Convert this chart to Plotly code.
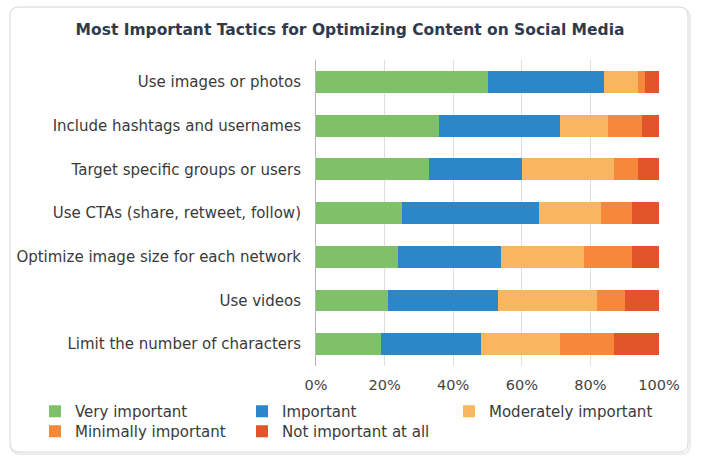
import plotly.graph_objects as go

categories = [
    "Use images or photos",
    "Include hashtags and usernames",
    "Target specific groups or users",
    "Use CTAs (share, retweet, follow)",
    "Optimize image size for each network",
    "Use videos",
    "Limit the number of characters",
]
very_important = [50, 36, 33, 25, 24, 21, 19]
important = [34, 35, 27, 40, 30, 32, 29]
moderately_important = [10, 14, 27, 18, 24, 29, 23]
minimally_important = [2, 10, 7, 9, 14, 8, 16]
not_important = [4, 5, 6, 8, 8, 10, 13]

x_ticks = [0, 20, 40, 60, 80, 100]
x_tick_labels = ["0%", "20%", "40%", "60%", "80%", "100%"]

series = [
    ("Very important", very_important, "#7fc168", "legend"),
    ("Important", important, "#2b87c8", "legend"),
    ("Moderately important", moderately_important, "#f8b660", "legend"),
    ("Minimally important", minimally_important, "#f6883c", "legend2"),
    ("Not important at all", not_important, "#e2542a", "legend2"),
]

W, H = 713, 464
L, R, T, B = 316, 659, 60, 366

fig = go.Figure()
for name, vals, col, leg in series:
    fig.add_trace(go.Bar(
        y=categories, x=vals, name=name, orientation="h", legend=leg,
        marker=dict(color=col, line=dict(width=0)),
        hovertemplate="%{y}: %{x}%<extra>" + name + "</extra>",
    ))

def px2paper(x, y):
    return (x - L) / (R - L), (B - y) / (B - T)

def rounded_path(x0, y0, x1, y1, r):
    def p(x, y):
        px_, py_ = px2paper(x, y)
        return f"{px_:.5f},{py_:.5f}"
    d = f"M {p(x0 + r, y0)} L {p(x1 - r, y0)} Q {p(x1, y0)} {p(x1, y0 + r)} "
    d += f"L {p(x1, y1 - r)} Q {p(x1, y1)} {p(x1 - r, y1)} "
    d += f"L {p(x0 + r, y1)} Q {p(x0, y1)} {p(x0, y1 - r)} "
    d += f"L {p(x0, y0 + r)} Q {p(x0, y0)} {p(x0 + r, y0)} Z"
    return d

fig.add_shape(type="path", xref="paper", yref="paper", layer="below",
              path=rounded_path(11, 9, 690, 454, 9),
              line=dict(color="#ececec", width=2), fillcolor="rgba(0,0,0,0)")
fig.add_shape(type="path", xref="paper", yref="paper", layer="below",
              path=rounded_path(10, 7, 688, 452, 9),
              line=dict(color="#d6d6d6", width=1), fillcolor="white")

font_family = "DejaVu Sans, Verdana, sans-serif"

legend_common = dict(orientation="h", xanchor="left", yanchor="top",
                     entrywidth=162, entrywidthmode="pixels", traceorder="normal",
                     font=dict(size=15, color="#3a3a3a"), bgcolor="rgba(0,0,0,0)",
                     itemclick=False, itemdoubleclick=False, tracegroupgap=0)
l1x, l1y = px2paper(35, 395)
l2x, l2y = px2paper(35, 415)

fig.update_layout(
    width=W, height=H,
    margin=dict(l=L, r=W - R, t=T, b=H - B, pad=0, autoexpand=False),
    paper_bgcolor="white", plot_bgcolor="rgba(0,0,0,0)",
    barmode="stack", bargap=0.5,
    font=dict(family=font_family, size=15, color="#3a3a3a"),
    title=dict(text="<b>Most Important Tactics for Optimizing Content on Social Media</b>",
               x=350 / W, xref="container", xanchor="center",
               y=1 - 30 / H, yanchor="middle",
               font=dict(family=font_family, size=15.5, color="#2f3b4c")),
    xaxis=dict(range=[0, 100], tickmode="array", tickvals=x_ticks, ticktext=x_tick_labels,
               showgrid=True, gridcolor="#dedede", gridwidth=1, zeroline=False,
               showline=False, ticks="outside", ticklen=6, tickcolor="rgba(0,0,0,0)",
               tickfont=dict(size=14.5, color="#444444"), fixedrange=True),
    yaxis=dict(autorange="reversed", showline=True, linecolor="#b5b5b5", linewidth=1,
               ticks="", ticklabelstandoff=11, showgrid=False,
               tickfont=dict(size=15, color="#3a3a3a"), fixedrange=True),
    legend=dict(x=l1x, y=l1y, **legend_common),
    legend2=dict(x=l2x, y=l2y, **legend_common),
    showlegend=True,
)

fig.write_html("out.html")
